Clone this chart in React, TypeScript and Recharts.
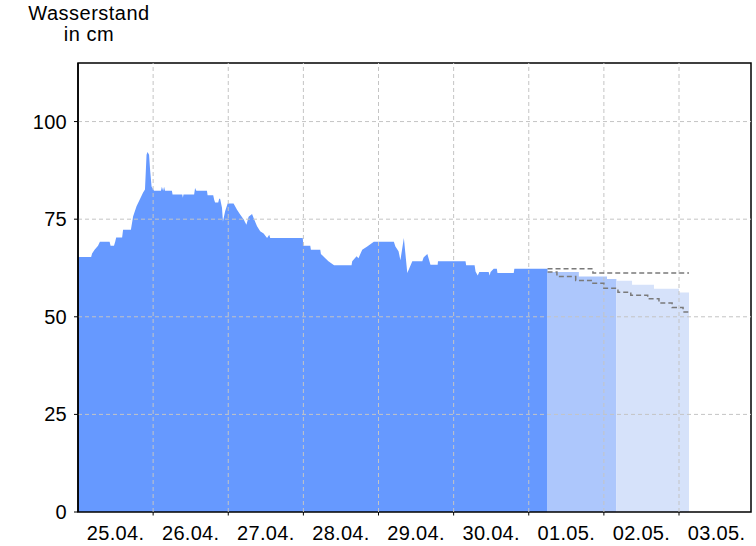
import React from "react";
import {
  ComposedChart,
  Area,
  Line,
  XAxis,
  YAxis,
  ReferenceLine,
  ReferenceArea,
} from "recharts";

// hours since 25.04. 00:00 -> water level in cm
const measured: [number, number][] = [
  [0, 65.3], [4.2, 65.3], [4.5, 66.2], [5.3, 67.2], [6.4, 68.2], [7, 69.2], [10.1, 69.2],
  [10.4, 68.2], [11.5, 68.2], [11.9, 69.3], [12.2, 70.3], [14.1, 70.3], [14.4, 72.3],
  [16.9, 72.3], [17.6, 75.7], [18.7, 78.3], [19.7, 80], [20.8, 81.8], [21.4, 82.6],
  [21.9, 91.5], [22.2, 92.2], [22.7, 91.5], [23, 88], [23.5, 83.4], [24.3, 82.3],
  [26.5, 82.3], [26.8, 83.3], [27.2, 82.3], [27.5, 83.3], [27.8, 82.3], [30, 82.3],
  [30.2, 81.3], [33.3, 81.3], [33.5, 80.5], [33.7, 81.3], [37.1, 81.3], [37.4, 83],
  [37.8, 82.3], [41.2, 82.3], [41.4, 81.1], [43.2, 81.1], [43.5, 80], [43.8, 79.3],
  [44.8, 79.3], [45.1, 80.2], [45.4, 80.2], [46, 77.9], [46.3, 74.4], [47, 77],
  [47.8, 79], [49.7, 79], [50.8, 77.4], [51.8, 76.2], [52.9, 75], [53.8, 73.6],
  [54.5, 75.6], [55.6, 76.3], [56.1, 75.3], [57.2, 73.2], [58.2, 71.9], [59.3, 71.3],
  [60.4, 70.2], [61.1, 71], [61.4, 70.2], [71.8, 70.2], [72, 68.2], [74.2, 68.2],
  [74.4, 67.2], [77.4, 67.2], [77.6, 66.1], [79, 65], [80, 64.2], [81.8, 63.2],
  [87.4, 63.2], [87.6, 64.2], [89, 65.5], [89.6, 65], [90.8, 67.2], [92.4, 68],
  [94.5, 69.2], [100.9, 69.2], [101.4, 68], [102.4, 66.8], [103, 64.5], [104.1, 70.2],
  [105.2, 61.2], [106.8, 64.2], [110, 64.2], [110.4, 65.2], [111.6, 66.1], [112, 65],
  [112.6, 63.3], [114.9, 63.3], [115, 64.2], [123.8, 64.2], [124, 63.2], [126.7, 63.2],
  [127, 61.6], [127.7, 60.6], [128.2, 61.5], [131.2, 61.5], [131.5, 60.6], [131.8, 61.5],
  [132.8, 62.3], [133.8, 62.3], [134, 61.2], [139.2, 61.2], [139.4, 62.3], [150, 62.3],
];

const forecastNear: [number, number][] = [
  [150, 61.5], [160, 60.3], [169, 59.7], [172, 59.7],
];

const forecastFar: [number, number][] = [
  [172, 59.2], [177, 58.2], [184, 57.2], [192, 56.2], [195.2, 56.2],
];

const upperBound: [number, number][] = [
  [150, 62.3], [164.5, 61.2], [195.2, 61.2],
];

const lowerBound: [number, number][] = [
  [150, 61.5], [153, 60.3], [159, 59.3], [164.5, 58.6], [168, 57.3], [172.5, 56.3],
  [176.6, 55.5], [182, 54.6], [185.6, 53.5], [189.8, 52.4], [193.3, 51.2], [195.2, 51.2],
];

const X_MAX = 215;
const Y_MAX = 115;
const dayBoundaries = [24, 48, 72, 96, 120, 144, 168, 192];
const dayCenters = [12, 36, 60, 84, 108, 132, 156, 180, 204];
const dayLabels = ["25.04.", "26.04.", "27.04.", "28.04.", "29.04.", "30.04.", "01.05.", "02.05.", "03.05."];
const yTicks = [0, 25, 50, 75, 100];
const yGrid = [25, 50, 75, 100];

const toPoints = (arr: [number, number][]) => arr.map(([h, v]) => ({ h, v }));

const FONT = "'Liberation Sans', Arial, sans-serif";
const GRID = "#c4c4c4";

export default function App() {
  return (
    <div style={{ position: "absolute", left: 0, top: 0, width: 756, height: 546, background: "#fff" }}>
      <div
        style={{
          position: "absolute",
          left: 0,
          top: 3,
          width: 178,
          textAlign: "center",
          fontFamily: FONT,
          fontSize: 20,
          lineHeight: "21px",
          letterSpacing: 0.5,
          color: "#000",
        }}
      >
        Wasserstand
        <br />
        in cm
      </div>
      <ComposedChart
        width={756}
        height={546}
        margin={{ top: 63, right: 5, left: 0, bottom: 0 }}
        style={{ fontFamily: FONT }}
      >
        <XAxis
          xAxisId="main"
          dataKey="h"
          type="number"
          domain={[0, X_MAX]}
          ticks={dayBoundaries}
          allowDataOverflow
          tickFormatter={() => ""}
          tickSize={3}
          height={0}
          interval={0}
          axisLine={{ stroke: "#000", strokeWidth: 1.5 }}
          tickLine={{ stroke: "#000" }}
        />
        <XAxis
          xAxisId="lab"
          dataKey="h"
          type="number"
          domain={[0, X_MAX]}
          ticks={dayCenters}
          allowDataOverflow
          tickFormatter={(v: number) => dayLabels[dayCenters.indexOf(v)] ?? ""}
          tickSize={0}
          tickMargin={14}
          height={34}
          axisLine={false}
          tickLine={false}
          interval={0}
          tick={{ fontSize: 20, fill: "#000", letterSpacing: 0.3 }}
        />
        <YAxis
          dataKey="v"
          type="number"
          domain={[0, Y_MAX]}
          ticks={yTicks}
          allowDataOverflow
          width={78}
          tickSize={4}
          tickMargin={7}
          interval={0}
          axisLine={{ stroke: "#000", strokeWidth: 1.5 }}
          tickLine={{ stroke: "#000" }}
          tick={{ fontSize: 20, fill: "#000", letterSpacing: 0.3 }}
        />
        <Area
          xAxisId="main"
          data={toPoints(measured)}
          dataKey="v"
          type="linear"
          stroke="none"
          fill="#6699ff"
          fillOpacity={1}
          isAnimationActive={false}
        />
        <Area
          xAxisId="main"
          data={toPoints(forecastNear)}
          dataKey="v"
          type="stepAfter"
          stroke="none"
          fill="#adc7fc"
          fillOpacity={1}
          isAnimationActive={false}
        />
        <Area
          xAxisId="main"
          data={toPoints(forecastFar)}
          dataKey="v"
          type="stepAfter"
          stroke="none"
          fill="#d6e2fa"
          fillOpacity={1}
          isAnimationActive={false}
        />
        {yGrid.map((v) => (
          <ReferenceLine
            key={`y${v}`}
            xAxisId="main"
            y={v}
            stroke={GRID}
            strokeDasharray="4 3"
          />
        ))}
        {dayBoundaries.map((d) => (
          <ReferenceLine
            key={`x${d}`}
            xAxisId="main"
            x={d}
            stroke={GRID}
            strokeDasharray="4 3"
          />
        ))}
        {dayBoundaries.map((d) => (
          <ReferenceLine
            key={`t${d}`}
            xAxisId="main"
            segment={[{ x: d, y: 0 }, { x: d, y: -0.9 }]}
            stroke="#000"
            ifOverflow="visible"
          />
        ))}
        <Line
          xAxisId="main"
          data={toPoints(upperBound)}
          dataKey="v"
          type="stepAfter"
          stroke="#7a7a7a"
          strokeWidth={1.5}
          strokeDasharray="5 3"
          dot={false}
          activeDot={false}
          isAnimationActive={false}
        />
        <Line
          xAxisId="main"
          data={toPoints(lowerBound)}
          dataKey="v"
          type="stepAfter"
          stroke="#7a7a7a"
          strokeWidth={1.5}
          strokeDasharray="5 3"
          dot={false}
          activeDot={false}
          isAnimationActive={false}
        />
        <ReferenceArea
          xAxisId="main"
          x1={0}
          x2={X_MAX}
          y1={0}
          y2={Y_MAX}
          fill="none"
          stroke="#000"
          strokeWidth={1.5}
          ifOverflow="visible"
        />
      </ComposedChart>
    </div>
  );
}
